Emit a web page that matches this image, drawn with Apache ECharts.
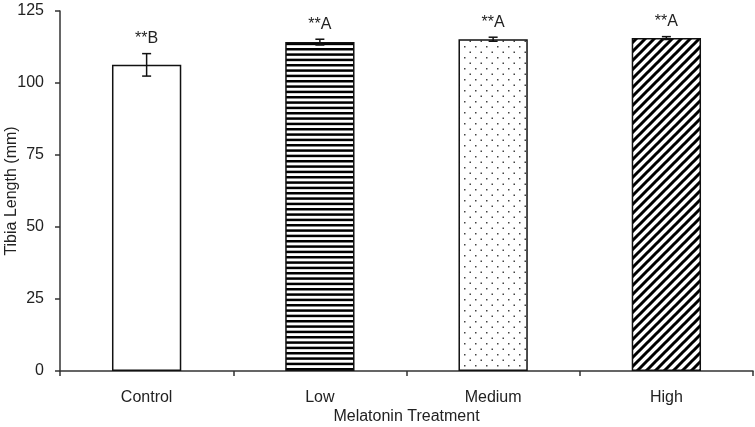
<!DOCTYPE html>
<html><head><meta charset="utf-8">
<script src="https://cdn.jsdelivr.net/npm/echarts@6/dist/echarts.min.js"></script>
<style>html,body{margin:0;padding:0;background:#fff}#c{width:755px;height:427px}</style>
</head><body><div id="c"></div>
<script>
const categories = ['Control', 'Low', 'Medium', 'High'];
const means = [106.3, 114.2, 115.2, 115.6];
const errors = [3.9, 1.0, 0.7, 0.5];
const sigLabels = ['**B', '**A', '**A', '**A'];
const yTicks = [0, 25, 50, 75, 100, 125];

function makePattern(kind) {
  const c = document.createElement('canvas');
  const ctx = c.getContext('2d');
  if (kind === 'hstripe') {
    c.width = 8; c.height = 16;
    ctx.fillStyle = '#fff'; ctx.fillRect(0, 0, 8, 16);
    ctx.fillStyle = '#000';
    ctx.fillRect(0, 0, 8, 2.5); ctx.fillRect(0, 5.33, 8, 2.5); ctx.fillRect(0, 10.67, 8, 2.5);
  } else if (kind === 'dots') {
    c.width = 11; c.height = 11;
    ctx.fillStyle = '#fff'; ctx.fillRect(0, 0, 11, 11);
    ctx.fillStyle = '#444';
    ctx.fillRect(2, 2, 1.5, 1.5); ctx.fillRect(7.5, 7.5, 1.5, 1.5);
  } else if (kind === 'diag') {
    const s = 9;
    c.width = s; c.height = s;
    ctx.fillStyle = '#fff'; ctx.fillRect(0, 0, s, s);
    ctx.strokeStyle = '#000'; ctx.lineWidth = 3;
    ctx.beginPath();
    ctx.moveTo(-s, 2 * s); ctx.lineTo(2 * s, -s);
    ctx.moveTo(-s, s); ctx.lineTo(s, -s);
    ctx.moveTo(0, 2 * s); ctx.lineTo(2 * s, 0);
    ctx.stroke();
  } else {
    c.width = 4; c.height = 4;
    ctx.fillStyle = '#fff'; ctx.fillRect(0, 0, 4, 4);
  }
  return { image: c, repeat: 'repeat' };
}
const fills = [makePattern('none'), makePattern('hstripe'), makePattern('dots'), makePattern('diag')];

const chart = echarts.init(document.getElementById('c'));
const font = 'Liberation Sans, Arial, sans-serif';
chart.setOption({
  animation: false,
  grid: { left: 60, right: 2, top: 11, bottom: 56, containLabel: false, outerBoundsMode: 'none' },
  xAxis: {
    type: 'category', data: categories,
    name: 'Melatonin Treatment', nameLocation: 'middle', nameGap: 38, nameMoveOverlap: false,
    nameTextStyle: { color: '#222', fontSize: 16, fontFamily: font },
    axisLine: { lineStyle: { color: '#333', width: 1.5 } },
    axisTick: { show: true, alignWithLabel: false, length: 5, lineStyle: { color: '#333', width: 1.5 } },
    axisLabel: { color: '#222', fontSize: 16, fontFamily: font, margin: 19 }
  },
  yAxis: {
    type: 'value', min: 0, max: 125, interval: 25,
    name: 'Tibia Length (mm)', nameLocation: 'middle', nameGap: 40, nameMoveOverlap: false,
    nameTextStyle: { color: '#222', fontSize: 16, fontFamily: font },
    splitLine: { show: false },
    axisLine: { show: true, lineStyle: { color: '#333', width: 1.5 } },
    axisTick: { show: true, length: 5, lineStyle: { color: '#333', width: 1.5 } },
    axisLabel: { color: '#222', fontSize: 16, fontFamily: font, margin: 16 }
  },
  series: [
    {
      type: 'bar', barWidth: '40%',
      data: means.map((v, i) => ({ value: v, itemStyle: { color: fills[i], borderColor: '#111', borderWidth: 1.5 } }))
    },
    {
      type: 'custom',
      data: means.map((v, i) => [i, v, errors[i], sigLabels[i]]),
      renderItem: function (params, api) {
        const i = api.value(0), m = api.value(1), e = api.value(2);
        const top = api.coord([i, m + e]);
        const bot = api.coord([i, m - e]);
        const hw = 4.5;
        const st = { stroke: '#111', lineWidth: 1.5 };
        return {
          type: 'group',
          children: [
            { type: 'line', shape: { x1: top[0], y1: top[1], x2: bot[0], y2: bot[1] }, style: st },
            { type: 'line', shape: { x1: top[0] - hw, y1: top[1], x2: top[0] + hw, y2: top[1] }, style: st },
            { type: 'line', shape: { x1: bot[0] - hw, y1: bot[1], x2: bot[0] + hw, y2: bot[1] }, style: st },
            { type: 'text', style: { text: sigLabels[params.dataIndex], x: top[0], y: top[1] - 7, align: 'center', verticalAlign: 'bottom', fill: '#222', font: '16px ' + font } }
          ]
        };
      },
      z: 10
    }
  ]
});
</script></body></html>
